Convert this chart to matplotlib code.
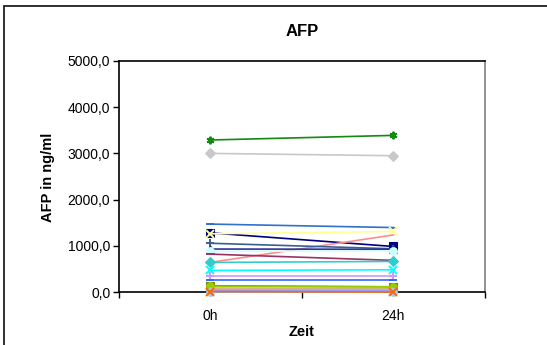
import matplotlib
matplotlib.use('Agg')
import matplotlib.pyplot as plt
from matplotlib.patches import Rectangle


# - - - - - - - - - - - - - - - - - - - - - - - - - - - - - - - - - - - - - - - -
# Daten: AFP (ng/ml) je Probe bei 0h und 24h
zeiten = ['0h', '24h']

afp_0h = [3290, 3000, 1470, 1280, 1260, 640, 1055, 930, 880, 820,
          640, 467, 337, 251, 136, 125, 85, 55, 35, 5, 10]
afp_24h = [3390, 2950, 1395, 985, 1310, 1235, 935, 925, 890, 684,
           662, 481, 337, 251, 110, 115, 80, 50, 30, 5, 0]

y_ticks = [0, 1000, 2000, 3000, 4000, 5000]
y_labels = ['0,0', '1000,0', '2000,0', '3000,0', '4000,0', '5000,0']

# Farben und Marker (Excel-Stil)
farben = ['#138A13', '#C8C8C8', '#2F72C8', '#000080', '#FFFF99', '#FF8C8C',
          '#3A5F8F', '#333399', '#CCFFFF', '#993366', '#33CCCC', '#00FFFF',
          '#CC99FF', '#3366FF', '#808000', '#99CC00', '#C0C060', '#FF99CC',
          '#9999FF', '#99CCFF', '#FF6600']
marker = [(6, 2, 0), 'D', '_', 's', 'x', None, '+', '^', 'o', '_', 'D', 'x',
          '+', '_', 's', 'o', None, None, None, 'o', 'x']

plt.rcParams['font.family'] = ['Liberation Sans', 'DejaVu Sans']

fig = plt.figure(figsize=(5.47, 3.45), dpi=100)
ax = fig.add_axes([118.6 / 547, 1 - 292 / 345, (485 - 118.6) / 547, (292 - 61) / 345])

x = [0, 1]
for i in range(len(afp_0h)):
    m = marker[i]
    ax.plot(x, [afp_0h[i], afp_24h[i]], color=farben[i], lw=1.2,
            marker=m, markersize=5.5, markeredgewidth=1.4 if m in ('x', '+', '_', (6, 2, 0)) else 0.8,
            clip_on=False, zorder=3 + i)

ax.set_xlim(-0.5, 1.5)
ax.set_ylim(0, 5000)
ax.set_yticks(y_ticks)
ax.set_yticklabels(y_labels, fontsize=10)
ax.set_xticks([-0.5, 0.5, 1.5])
ax.set_xticklabels([])
ax.set_xticks(x, minor=True)
ax.set_xticklabels(zeiten, minor=True, fontsize=10)
ax.tick_params(axis='x', which='minor', length=0, pad=12)
ax.tick_params(axis='both', which='major', direction='out', length=4, width=1, color='black')
ax.tick_params(axis='y', pad=2)

for s in ['left', 'bottom', 'top']:
    ax.spines[s].set_color('black')
    ax.spines[s].set_linewidth(1.2)
ax.spines['right'].set_color('#808080')
ax.spines['right'].set_linewidth(1.2)

fig.text(302 / 547, 1 - 32 / 345, 'AFP', ha='center', va='center', fontsize=12, fontweight='bold')
fig.text(48 / 547, 1 - 177 / 345, 'AFP in ng/ml', ha='center', va='center', rotation=90,
         fontsize=10.5, fontweight='bold')
fig.text(302 / 547, 1 - 332 / 345, 'Zeit', ha='center', va='center', fontsize=10.5, fontweight='bold')

# Rahmen um das Diagramm (rechts und unten abgeschnitten)
fig.add_artist(Rectangle((3.5 / 547, -0.2), 2, 1.2 - 5.5 / 345, transform=fig.transFigure,
                         fill=False, edgecolor='#202020', lw=1.3))

plt.savefig('out.png', dpi=100)
